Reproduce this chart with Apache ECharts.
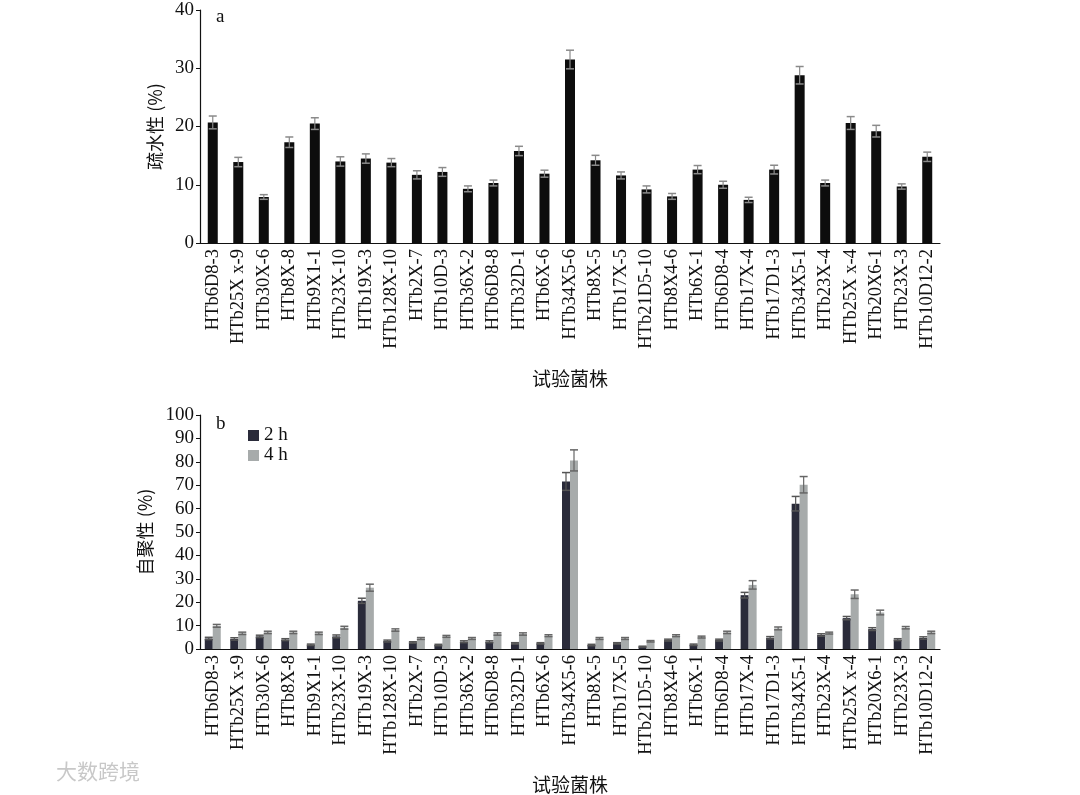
<!DOCTYPE html>
<html><head><meta charset="utf-8">
<script src="https://cdn.jsdelivr.net/npm/echarts@6/dist/echarts.min.js"></script>
<style>html,body{margin:0;padding:0;background:#fff}#c{width:1080px;height:795px}</style>
</head><body><div id="c"></div>
<script>
var categories = ['HTb6D8-3','HTb25X x-9','HTb30X-6','HTb8X-8','HTb9X1-1','HTb23X-10','HTb19X-3','HTb128X-10','HTb2X-7','HTb10D-3','HTb36X-2','HTb6D8-8','HTb32D-1','HTb6X-6','HTb34X5-6','HTb8X-5','HTb17X-5','HTb21D5-10','HTb8X4-6','HTb6X-1','HTb6D8-4','HTb17X-4','HTb17D1-3','HTb34X5-1','HTb23X-4','HTb25X x-4','HTb20X6-1','HTb23X-3','HTb10D12-2'];
var hydro    = [20.7,13.9,7.9,17.3,20.5,14.0,14.5,13.8,11.7,12.2,9.3,10.3,15.8,11.9,31.5,14.2,11.6,9.2,8.0,12.6,10.0,7.4,12.6,28.8,10.3,20.6,19.2,9.7,14.8];
var hydroErr = [1.1,0.8,0.4,0.9,1.0,0.8,0.8,0.7,0.7,0.75,0.5,0.5,0.8,0.6,1.6,0.85,0.6,0.6,0.5,0.7,0.6,0.45,0.75,1.5,0.5,1.1,1.0,0.45,0.8];
var auto2h    = [4.5,4.3,5.4,4.0,1.8,5.4,20.6,3.4,2.8,1.7,3.1,3.1,2.4,2.4,71.6,1.7,2.4,1.0,3.8,1.8,3.8,23.0,4.8,62.1,6.0,13.2,8.5,4.0,4.7];
var auto2hErr = [0.5,0.5,0.5,0.4,0.3,0.6,1.1,0.4,0.3,0.3,0.4,0.4,0.3,0.3,3.8,0.3,0.3,0.2,0.4,0.3,0.4,1.2,0.5,3.1,0.5,0.7,0.6,0.4,0.5];
var auto4h    = [9.9,6.7,7.1,7.1,6.7,9.1,26.2,8.1,4.5,5.4,4.5,6.4,6.4,5.7,80.6,4.5,4.5,3.3,5.7,5.1,7.1,27.4,8.8,70.2,6.8,23.4,15.6,9.1,7.1];
var auto4hErr = [0.6,0.5,0.5,0.5,0.5,0.6,1.5,0.5,0.4,0.4,0.4,0.5,0.5,0.4,4.5,0.4,0.4,0.3,0.4,0.4,0.5,1.8,0.6,3.5,0.4,1.8,1.0,0.5,0.5];
var topTicks = [0,10,20,30,40];
var bottomTicks = [0,10,20,30,40,50,60,70,80,90,100];

var SERIF = '"Liberation Serif","Times New Roman",serif';
var CJK = '"Noto Sans CJK SC",sans-serif';

function errSeries(xi, yi, vals, errs, offset, color){
  return {
    type:'custom', xAxisIndex:xi, yAxisIndex:yi, z:10, silent:true,
    data: vals.map(function(v,i){return [i,v,errs[i]];}),
    renderItem:function(params, api){
      var i=api.value(0), v=api.value(1), e=api.value(2);
      var hi=api.coord([i,v+e]), lo=api.coord([i,v-e]);
      var x=hi[0]+offset, hw=4;
      return {type:'group',children:[
        {type:'line',shape:{x1:x,y1:hi[1],x2:x,y2:lo[1]},style:{stroke:color,lineWidth:1.2}},
        {type:'line',shape:{x1:x-hw,y1:hi[1],x2:x+hw,y2:hi[1]},style:{stroke:color,lineWidth:1.5}},
        {type:'line',shape:{x1:x-hw,y1:lo[1],x2:x+hw,y2:lo[1]},style:{stroke:color,lineWidth:1.5}}
      ]};
    }
  };
}

function xAx(gi, nameGap){
  return {type:'category', gridIndex:gi, data:categories, name:'试验菌株', nameLocation:'middle', nameGap:nameGap,
    nameTextStyle:{fontFamily:CJK, fontSize:19, color:'#111'},
    axisLine:{lineStyle:{color:'#111',width:1.2}},
    axisTick:{inside:true, length:4, lineStyle:{color:'#111'}},
    axisLabel:{interval:0, rotate:90, margin:6, fontFamily:SERIF, fontSize:18.5, color:'#111'}};
}
function yAx(gi, max, interval, name, nameGap){
  return {type:'value', gridIndex:gi, min:0, max:max, interval:interval, name:name, nameLocation:'middle', nameGap:nameGap,
    nameTextStyle:{fontFamily:CJK, fontSize:18, color:'#111'},
    splitLine:{show:false},
    axisLine:{show:true, lineStyle:{color:'#111',width:1.2}},
    axisTick:{show:true, length:4, lineStyle:{color:'#111'}},
    axisLabel:{fontFamily:SERIF, fontSize:19, color:'#111', margin:6}};
}

var chart = echarts.init(document.getElementById('c'));
chart.setOption({
  backgroundColor:'#fff',
  animation:false,
  grid:[
    {left:200, right:140, top:10, bottom:552},
    {left:200, right:140, top:415, bottom:145}
  ],
  xAxis:[xAx(0,126), xAx(1,126)],
  yAxis:[yAx(0,40,10,'疏水性 (%)',33), yAx(1,100,10,'自聚性 (%)',46)],
  legend:{left:243, top:421, orient:'vertical', itemWidth:11, itemHeight:11, itemGap:1,
    textStyle:{fontFamily:SERIF, fontSize:19, color:'#111'}, icon:'rect',
    data:['2 h','4 h']},
  series:[
    {type:'bar', name:'疏水性', xAxisIndex:0, yAxisIndex:0, data:hydro, barWidth:10, itemStyle:{color:'#0d0d0d'}},
    errSeries(0,0,hydro,hydroErr,0,'#8a8a8a'),
    {type:'bar', name:'2 h', xAxisIndex:1, yAxisIndex:1, data:auto2h, barWidth:8, barGap:'0%', itemStyle:{color:'#2a2b3a'}},
    {type:'bar', name:'4 h', xAxisIndex:1, yAxisIndex:1, data:auto4h, barWidth:8, barGap:'0%', itemStyle:{color:'#a7abab'}},
    errSeries(1,1,auto2h,auto2hErr,-4,'#555'),
    errSeries(1,1,auto4h,auto4hErr,4,'#666')
  ],
  graphic:[
    {type:'text', left:216, top:8, style:{text:'a', font:'19px '+SERIF, fill:'#111'}},
    {type:'text', left:216, top:415, style:{text:'b', font:'19px '+SERIF, fill:'#111'}},
    {type:'text', left:56, top:761, style:{text:'大数跨境', font:'21px '+CJK, fill:'#c8c8c8'}}
  ]
});
</script></body></html>
